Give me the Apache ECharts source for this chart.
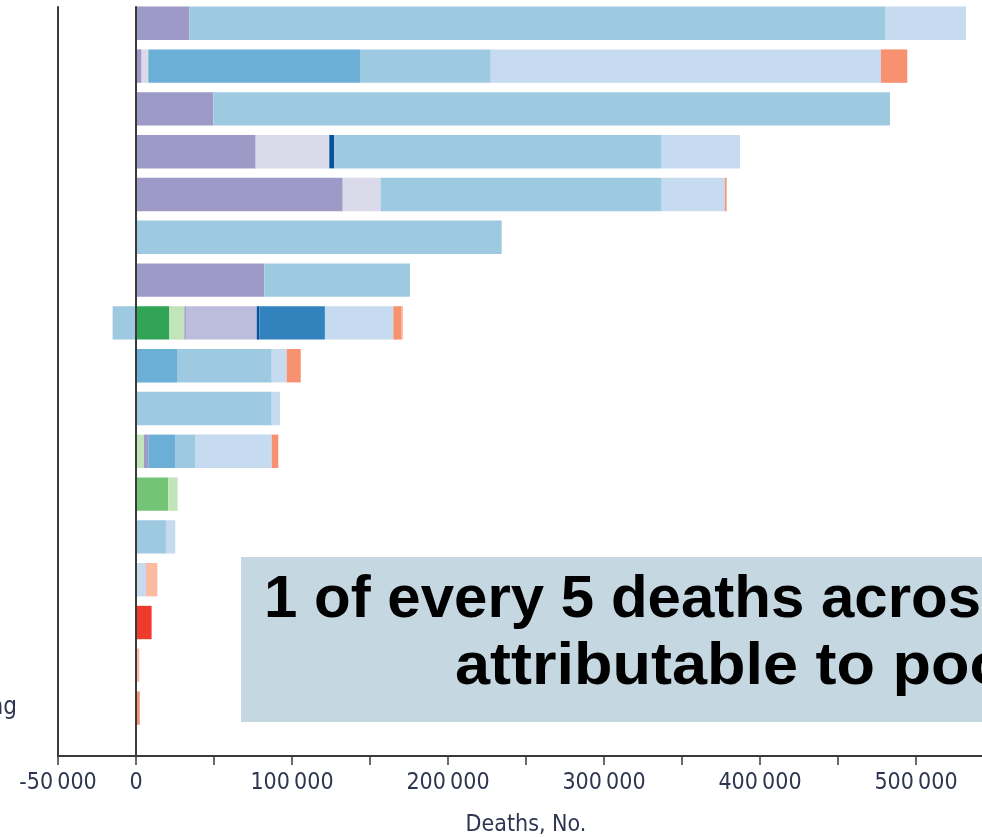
<!DOCTYPE html>
<html>
<head>
<meta charset="utf-8">
<script src="https://cdn.jsdelivr.net/npm/echarts@6/dist/echarts.min.js"></script>
<style>
  html, body { margin: 0; padding: 0; background: #fff; }
  #chart { width: 982px; height: 837px; }
</style>
</head>
<body>
<div id="chart"></div>
<script>
// Risk factors, one bar each (top to bottom)
const categories = [
  'Dietary risks',
  'Tobacco',
  'High systolic blood pressure',
  'High body-mass index',
  'High fasting plasma glucose',
  'High total cholesterol',
  'Air pollution',
  'Alcohol and drug use',
  'Impaired kidney function',
  'Low physical activity',
  'Occupational risks',
  'Other environmental risks',
  'Low bone mineral density',
  'Unsafe sex',
  'Sexual abuse and violence',
  'Childhood and maternal malnutrition',
  'Unsafe water, sanitation, and handwashing'
];

// Attributable deaths per cause group, stacked left to right
const green1  = [0, 0, 0, 0, 0, 0, 0, 21400, 0, 0, 0, 0, 0, 0, 0, 0, 0];
const green2  = [0, 0, 0, 0, 0, 0, 0, 0, 0, 0, 0, 20700, 0, 0, 0, 0, 0];
const green3  = [0, 0, 0, 0, 0, 0, 0, 9600, 0, 0, 5100, 6000, 0, 0, 0, 0, 0];
const purple1 = [34200, 3600, 49600, 76700, 132500, 0, 82300, 1000, 0, 0, 2800, 0, 0, 0, 0, 0, 0];
const purple2 = [0, 0, 0, 0, 0, 0, 0, 45400, 0, 0, 0, 0, 0, 0, 0, 0, 0];
const purple3 = [0, 4300, 0, 47200, 24300, 0, 0, 0, 0, 0, 0, 0, 0, 0, 0, 0, 0];
const blue1   = [0, 0, 0, 3200, 0, 0, 0, 1700, 0, 0, 0, 0, 0, 0, 0, 0, 0];
const blue2   = [0, 0, 0, 0, 0, 0, 0, 42000, 0, 0, 0, 0, 0, 0, 0, 0, 0];
const blue3   = [0, 136100, 0, 0, 0, 0, 0, 0, 26700, 0, 17500, 0, 0, 0, 0, 0, 0];
const blue4   = [446300, 83400, 433700, 209900, 180200, 234400, 93300, -15000, 60300, 87000, 12800, 0, 19200, 0, 0, 0, 0];
const blue5   = [51500, 250100, 0, 50200, 40500, 0, 0, 43900, 9600, 5300, 48800, 0, 6000, 6400, 0, 0, 0];
const red1    = [0, 0, 0, 0, 0, 0, 0, 0, 0, 0, 0, 0, 0, 0, 10000, 0, 0];
const red2    = [0, 16900, 0, 0, 1100, 0, 0, 5300, 9000, 0, 4200, 0, 0, 0, 0, 0, 2400];
const red3    = [0, 0, 0, 0, 0, 0, 0, 800, 0, 0, 0, 0, 0, 7300, 0, 2100, 0];

// Axis values that carry a printed label
const xLabelValues = [-50000, 0, 100000, 200000, 300000, 400000, 500000];
const axisTitle = 'Deaths, No.';
const calloutLines = ['1 of every 5 deaths across the US is', 'attributable to poor diet'];

const groups = [
  ['green1', green1, '#31a354'],
  ['green2', green2, '#74c476'],
  ['green3', green3, '#c2e4ba'],
  ['purple1', purple1, '#9e9ac8'],
  ['purple2', purple2, '#bcbddc'],
  ['purple3', purple3, '#dadaeb'],
  ['blue1', blue1, '#08519c'],
  ['blue2', blue2, '#3182bd'],
  ['blue3', blue3, '#6baed6'],
  ['blue4', blue4, '#9ecae1'],
  ['blue5', blue5, '#c6dbef'],
  ['red1', red1, '#ef3b2c'],
  ['red2', red2, '#f7916f'],
  ['red3', red3, '#fcbba1']
];

const labelFont = '"DejaVu Sans Condensed", sans-serif';
const labelColor = '#2e3550';
const lineColor = '#3a3a3a';
const calloutFont = 'bold 60px "Liberation Sans", Arial, sans-serif';

const X_MIN = -50000, X_MAX = 550000, X_STEP = 50000;
const PLOT_LEFT = 58, PLOT_RIGHT = -12;

// The row labels are left-aligned; the longest one ends just inside the page edge
const ctx = document.createElement('canvas').getContext('2d');
ctx.font = '24px ' + labelFont;
const longest = categories.reduce((a, c) => Math.max(a, ctx.measureText(c).width), 0);
const labelMargin = PLOT_LEFT - (17 - longest);

function fmt(v) {
  const s = String(Math.abs(v));
  const grouped = s.length > 3 ? s.slice(0, s.length - 3) + '\u2009' + s.slice(-3) : s;
  return (v < 0 ? '-' : '') + grouped;
}

const chart = echarts.init(document.getElementById('chart'), null, { renderer: 'canvas' });

chart.setOption({
  backgroundColor: '#ffffff',
  animation: false,
  grid: [
    // bars
    { left: PLOT_LEFT, right: PLOT_RIGHT, top: 1.9, bottom: 107.5, containLabel: false, outerBoundsMode: 'none' },
    // frame with the axis lines
    { left: PLOT_LEFT, right: PLOT_RIGHT, top: 7, bottom: 81, containLabel: false, outerBoundsMode: 'none' }
  ],
  xAxis: [
    { gridIndex: 0, type: 'value', min: X_MIN, max: X_MAX, interval: X_STEP, show: false },
    {
      gridIndex: 1, type: 'value', min: X_MIN, max: X_MAX, interval: X_STEP,
      name: axisTitle, nameLocation: 'middle', nameGap: 58,
      nameTextStyle: { fontFamily: labelFont, fontSize: 23, color: labelColor },
      axisLine: { show: true, onZero: false, lineStyle: { color: lineColor, width: 2 } },
      axisTick: { show: true, length: 9, lineStyle: { color: lineColor, width: 1.5 } },
      splitLine: { show: false },
      axisLabel: {
        margin: 16, fontFamily: labelFont, fontSize: 23, color: labelColor,
        showMaxLabel: false,
        formatter: v => xLabelValues.includes(v) ? fmt(v) : ''
      }
    }
  ],
  yAxis: [
    {
      gridIndex: 0, type: 'category', data: categories, inverse: true,
      axisLine: { show: false }, axisTick: { show: false }, splitLine: { show: false },
      axisLabel: {
        interval: 0, align: 'left', margin: labelMargin,
        fontFamily: labelFont, fontSize: 24, color: labelColor
      }
    },
    {
      gridIndex: 1, type: 'value', min: 0, max: 1, z: 10,
      axisLine: { show: true, onZero: false, lineStyle: { color: lineColor, width: 2 } },
      axisTick: { show: false }, axisLabel: { show: false }, splitLine: { show: false }
    },
    {
      gridIndex: 1, type: 'value', min: 0, max: 1, z: 10,
      axisLine: { show: true, onZero: true, lineStyle: { color: lineColor, width: 2 } },
      axisTick: { show: false }, axisLabel: { show: false }, splitLine: { show: false }
    }
  ],
  series: groups.map(([name, data, color]) => ({
    name, type: 'bar', stack: 'deaths', xAxisIndex: 0, yAxisIndex: 0,
    barCategoryGap: '22%',
    data: data.map(v => (v === 0 ? null : v)),
    itemStyle: { color },
    emphasis: { disabled: true }
  })),
  graphic: [
    {
      type: 'rect', z: 100,
      shape: { x: 241, y: 557, width: 800, height: 165 },
      style: { fill: '#c5d8e1' }
    },
    {
      type: 'text', z: 101, x: 264, y: 600,
      style: {
        text: calloutLines[0], fill: '#000', font: calloutFont,
        textAlign: 'left', textVerticalAlign: 'middle'
      }
    },
    {
      type: 'text', z: 101, x: 455, y: 667, scaleX: 1.05,
      style: {
        text: calloutLines[1], fill: '#000', font: calloutFont,
        textAlign: 'left', textVerticalAlign: 'middle'
      }
    }
  ]
});
</script>
</body>
</html>
